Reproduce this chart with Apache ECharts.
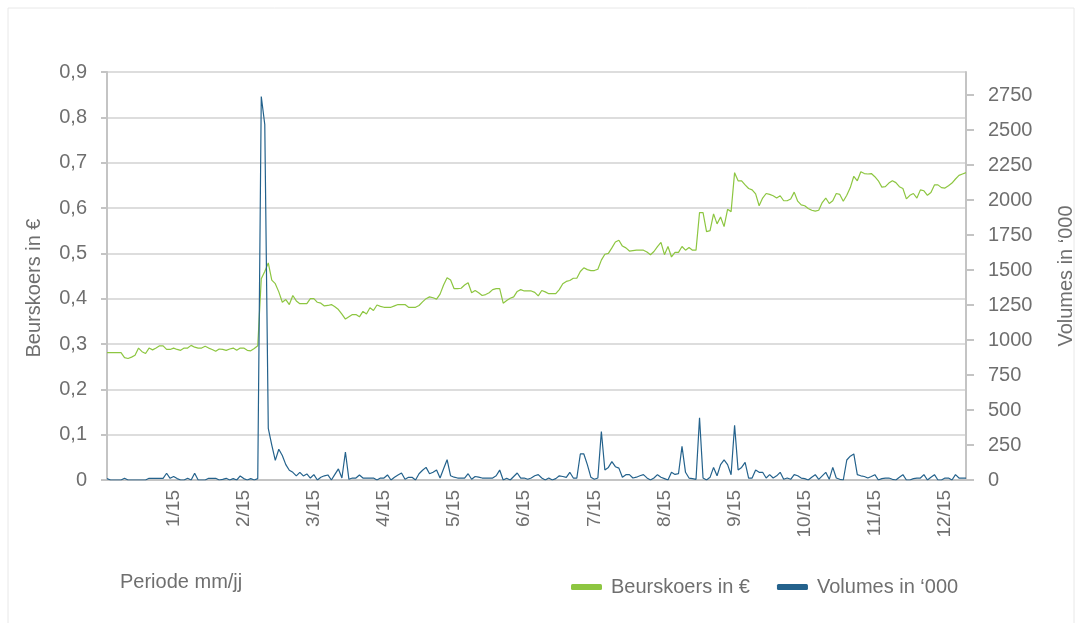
<!DOCTYPE html>
<html>
<head>
<meta charset="utf-8">
<script src="https://cdn.jsdelivr.net/npm/echarts@6/dist/echarts.min.js"></script>
<style>
  html, body { margin: 0; padding: 0; background: #fff; }
  #main { width: 1082px; height: 623px; }
</style>
</head>
<body>
<div id="main"></div>
<script>
// beurskoers (euro) per handelsdag
var koers = [
  0.281,0.281,0.281,0.281,0.281,0.270,0.268,0.271,0.275,0.291,
  0.283,0.279,0.291,0.287,0.291,0.296,0.296,0.288,0.288,0.291,
  0.288,0.286,0.291,0.291,0.297,0.293,0.291,0.291,0.295,0.291,
  0.288,0.284,0.289,0.288,0.286,0.289,0.291,0.286,0.291,0.291,
  0.286,0.285,0.290,0.296,0.444,0.460,0.479,0.441,0.433,0.415,
  0.392,0.398,0.387,0.407,0.395,0.389,0.389,0.389,0.400,0.400,
  0.392,0.390,0.384,0.385,0.387,0.382,0.376,0.366,0.355,0.360,
  0.365,0.365,0.360,0.372,0.366,0.380,0.374,0.386,0.383,0.381,
  0.381,0.381,0.384,0.387,0.387,0.387,0.381,0.381,0.381,0.385,
  0.393,0.400,0.404,0.402,0.399,0.410,0.430,0.446,0.441,0.422,
  0.422,0.423,0.430,0.435,0.413,0.418,0.413,0.407,0.409,0.413,
  0.420,0.422,0.422,0.390,0.396,0.401,0.404,0.416,0.420,0.417,
  0.417,0.417,0.414,0.406,0.418,0.415,0.411,0.411,0.411,0.420,
  0.433,0.438,0.440,0.445,0.445,0.460,0.468,0.464,0.462,0.462,
  0.465,0.485,0.498,0.500,0.512,0.525,0.529,0.516,0.512,0.505,
  0.506,0.507,0.507,0.507,0.503,0.497,0.504,0.515,0.524,0.497,
  0.515,0.492,0.502,0.502,0.515,0.507,0.513,0.507,0.507,0.590,
  0.590,0.548,0.550,0.587,0.565,0.580,0.559,0.597,0.592,0.678,
  0.660,0.660,0.651,0.643,0.640,0.631,0.605,0.622,0.632,0.630,
  0.627,0.622,0.627,0.616,0.616,0.620,0.635,0.615,0.607,0.605,
  0.599,0.595,0.593,0.595,0.612,0.622,0.610,0.616,0.632,0.630,
  0.615,0.628,0.645,0.670,0.660,0.680,0.676,0.675,0.676,0.669,
  0.660,0.646,0.647,0.655,0.660,0.656,0.647,0.643,0.620,0.628,
  0.632,0.622,0.640,0.638,0.628,0.634,0.651,0.651,0.645,0.644,
  0.649,0.655,0.664,0.672,0.675,0.678
];
// volumes in duizendtallen
var volumes = [
  10,0,0,0,0,12,0,0,0,0,
  0,0,12,12,12,12,12,48,12,25,
  10,0,0,12,0,48,0,0,0,12,
  12,12,0,5,12,0,10,0,29,10,
  0,10,0,10,2740,2540,369,250,140,220,
  175,110,70,55,30,55,29,43,14,38,
  0,20,30,36,0,40,79,14,200,5,
  14,14,36,14,14,14,14,0,14,14,
  36,0,20,36,50,5,19,19,0,45,
  70,90,45,55,71,14,80,145,30,20,
  14,14,14,45,5,25,20,14,14,14,
  14,30,71,0,12,0,25,50,14,14,
  5,14,30,38,14,0,14,0,10,30,
  25,19,55,14,14,186,186,110,20,5,
  14,347,71,90,131,95,85,20,38,38,
  14,20,30,38,15,0,14,38,20,10,
  0,55,40,45,240,55,14,10,5,445,
  14,0,19,90,30,110,143,110,38,390,
  71,90,126,14,14,71,55,55,14,38,
  14,30,55,5,14,5,38,30,14,10,
  0,20,38,5,30,55,5,90,14,5,
  0,143,170,186,38,30,25,14,25,38,
  0,10,14,14,5,0,20,38,0,0,
  10,14,14,38,0,20,38,0,0,14,
  14,0,38,14,14,14
];
var maandLabels = ['1/15','2/15','3/15','4/15','5/15','6/15','7/15','8/15','9/15','10/15','11/15','12/15'];
var eersteMaandDag = 19; // handelsdag waarop het eerste label staat
var dagenPerMaand = 20;
var volumeTicks = [0,250,500,750,1000,1250,1500,1750,2000,2250,2500,2750];

var dagen = [];
for (var i = 0; i < koers.length; i++) {
  var k = i - eersteMaandDag;
  dagen[i] = (k >= 0 && k % dagenPerMaand === 0) ? maandLabels[k / dagenPerMaand] : '';
}

var font = "'Liberation Sans', Arial, sans-serif";
var grijs = '#6f6f6f';
var groen = '#8dc641';
var blauw = '#24628c';

var myChart = echarts.init(document.getElementById('main'));
var option = {
  animation: false,
  textStyle: { fontFamily: font },
  grid: { left: 107, right: 116, top: 72, bottom: 143, outerBoundsMode: 'none' },
  legend: {
    left: 566, top: 572,
    icon: 'roundRect',
    itemWidth: 31, itemHeight: 6,
    itemGap: 27,
    textStyle: { color: grijs, fontSize: 20, fontFamily: font, padding: [0, 0, 0, 4] },
    data: ['Beurskoers in €', 'Volumes in ‘000']
  },
  graphic: [
    { type: 'rect', shape: { x: 8, y: 8, width: 1066, height: 640 },
      style: { fill: 'none', stroke: '#e8e8e8', lineWidth: 1 } },
    { type: 'text', left: 120, top: 572,
      style: { text: 'Periode mm/jj', fill: grijs, fontSize: 20, fontFamily: font } }
  ],
  xAxis: {
    type: 'category',
    boundaryGap: false,
    data: dagen,
    axisLine: { lineStyle: { color: '#c4c4c4', width: 2 } },
    axisTick: { show: false },
    axisLabel: {
      rotate: 90, margin: 10, color: grijs, fontSize: 19, fontFamily: font,
      interval: function (idx, val) { return val !== ''; }
    },
    splitLine: { show: false }
  },
  yAxis: [{
    type: 'value',
    min: 0, max: 0.9, interval: 0.1,
    name: 'Beurskoers in €',
    nameLocation: 'middle', nameRotate: 90, nameGap: 63,
    nameTextStyle: { color: grijs, fontSize: 20, fontFamily: font, padding: [0, 24, 0, 0] },
    axisLine: { show: true, lineStyle: { color: '#c4c4c4', width: 2 } },
    axisTick: { show: true, length: 6, lineStyle: { color: '#c4c4c4', width: 2 } },
    axisLabel: {
      margin: 20, color: grijs, fontSize: 20, fontFamily: font,
      formatter: function (v) { return v === 0 ? '0' : v.toFixed(1).replace('.', ','); }
    },
    splitLine: { lineStyle: { color: '#d2d2d2', width: 1.5 } }
  }, {
    type: 'value',
    min: 0, max: 2915,
    position: 'right',
    name: 'Volumes in ‘000',
    nameLocation: 'middle', nameRotate: 90, nameGap: 90,
    nameTextStyle: { color: grijs, fontSize: 20, fontFamily: font },
    axisLine: { show: true, lineStyle: { color: '#c4c4c4', width: 2 } },
    axisTick: { show: true, length: 8, customValues: volumeTicks, lineStyle: { color: '#c4c4c4', width: 2 } },
    axisLabel: {
      margin: 22, color: grijs, fontSize: 20, fontFamily: font, customValues: volumeTicks,
      formatter: function (v) { return String(v); }
    },
    splitLine: { show: false }
  }],
  series: [{
    name: 'Beurskoers in €',
    type: 'line',
    data: koers,
    showSymbol: false,
    itemStyle: { color: groen },
    lineStyle: { color: groen, width: 1.2 }
  }, {
    name: 'Volumes in ‘000',
    type: 'line',
    yAxisIndex: 1,
    data: volumes,
    showSymbol: false,
    itemStyle: { color: blauw },
    lineStyle: { color: blauw, width: 1.2 }
  }]
};
myChart.setOption(option);
</script>
</body>
</html>
